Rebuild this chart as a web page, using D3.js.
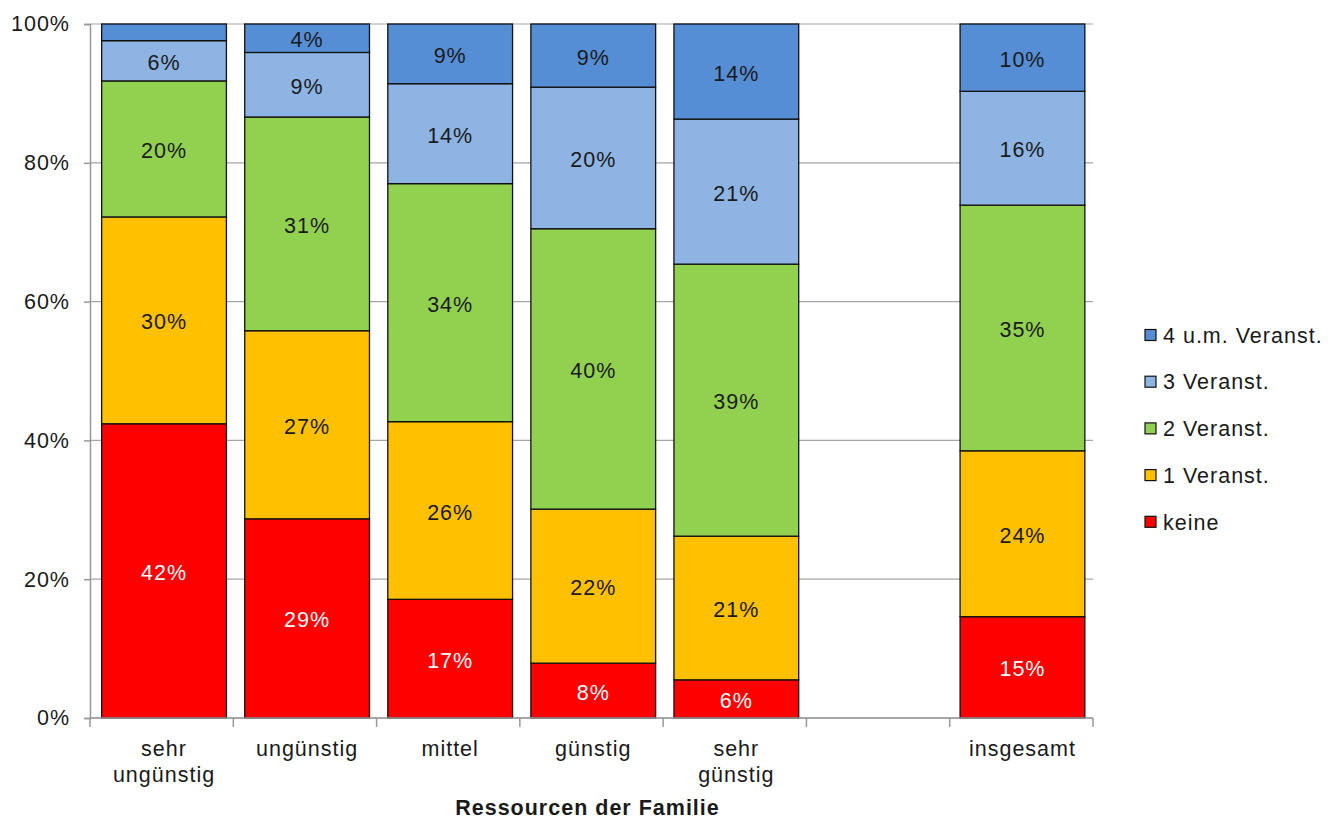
<!DOCTYPE html>
<html>
<head>
<meta charset="utf-8">
<script src="https://cdn.jsdelivr.net/npm/d3@7"></script>
<style>
  html, body { margin: 0; padding: 0; background: #fff; }
  svg { display: block; font-family: "Liberation Sans", Arial, Helvetica, sans-serif; letter-spacing: 1px; }
</style>
</head>
<body>
<svg id="chart" width="1328" height="825"></svg>
<script>
// Categories (one empty spacer slot before the total)
const categories = ["sehr ungünstig", "ungünstig", "mittel", "günstig", "sehr günstig", "", "insgesamt"];
const categoryLines = [["sehr", "ungünstig"], ["ungünstig"], ["mittel"], ["günstig"], ["sehr", "günstig"], [], ["insgesamt"]];

// Series, bottom to top (shares in %)
const seriesNames = ["keine", "1 Veranst.", "2 Veranst.", "3 Veranst.", "4 u.m. Veranst."];
const keine     = [42.4, 28.7, 17.1,  7.9,  5.5, null, 14.6];
const eins      = [29.8, 27.1, 25.6, 22.2, 20.7, null, 23.9];
const zwei      = [19.6, 30.8, 34.3, 40.4, 39.2, null, 35.4];
const drei      = [ 5.8,  9.3, 14.4, 20.4, 20.9, null, 16.4];
const vierUndMehr = [2.4,  4.1,  8.6,  9.1, 13.7, null,  9.7];
const seriesValues = [keine, eins, zwei, drei, vierUndMehr];
const seriesColors = ["#FF0000", "#FFC000", "#92D050", "#8EB4E3", "#558ED5"];
const labelColors  = ["#ffffff", "#1a1a1a", "#1a1a1a", "#1a1a1a", "#1a1a1a"];

const yTicks = [0, 20, 40, 60, 80, 100];
const xTitle = "Ressourcen der Familie";

const svg = d3.select("#chart");
const plot = { left: 90, right: 1093, top: 24, bottom: 718 };
const FONT = 21.5;

const x = d3.scaleBand()
  .domain(d3.range(categories.length))
  .range([plot.left + 2.5, plot.right + 1])
  .paddingInner(0.128)
  .paddingOuter(0.064);
const y = d3.scaleLinear().domain([0, 100]).range([plot.bottom, plot.top]);

// Gridlines
svg.append("g")
  .selectAll("line")
  .data(yTicks)
  .join("line")
  .attr("x1", plot.left).attr("x2", plot.right)
  .attr("y1", d => y(d)).attr("y2", d => y(d))
  .attr("stroke", "#a6a6a6").attr("stroke-width", 1.2);

// Y axis
const yAxis = svg.append("g")
  .attr("transform", `translate(${plot.left},0)`)
  .call(d3.axisLeft(y).tickValues(yTicks).tickFormat(d => d + "%").tickSize(6).tickPadding(14));
yAxis.select(".domain").attr("stroke", "#999").attr("stroke-width", 1.5);
yAxis.selectAll(".tick line").attr("stroke", "#999").attr("stroke-width", 1.5);
yAxis.selectAll(".tick text").attr("font-size", FONT).attr("fill", "#1a1a1a").attr("font-family", null);

// Stacked data
const rows = categories.map((c, i) => {
  const r = { i };
  seriesValues.forEach((s, k) => r[k] = s[i] == null ? 0 : s[i]);
  return r;
});
const stack = d3.stack().keys(d3.range(seriesValues.length))(rows);

const layers = svg.append("g")
  .selectAll("g")
  .data(stack)
  .join("g")
  .attr("fill", (d, k) => seriesColors[k]);

layers.selectAll("rect")
  .data(d => d.filter(p => p[1] - p[0] > 0))
  .join("rect")
  .attr("x", p => x(p.data.i))
  .attr("width", x.bandwidth())
  .attr("y", p => y(p[1]))
  .attr("height", p => y(p[0]) - y(p[1]))
  .attr("stroke", "#111")
  .attr("stroke-width", 1.3);

// Value labels inside segments
stack.forEach((layer, k) => {
  svg.append("g")
    .selectAll("text")
    .data(layer.filter(p => p[1] - p[0] >= 3.5))
    .join("text")
    .attr("x", p => x(p.data.i) + x.bandwidth() / 2)
    .attr("y", p => y((p[0] + p[1]) / 2))
    .attr("dy", "0.42em")
    .attr("text-anchor", "middle")
    .attr("font-size", FONT)
    .attr("fill", labelColors[k])
    .text(p => Math.round(p[1] - p[0]) + "%");
});

// X axis: ticks on slot boundaries
const slot = (plot.right - plot.left) / categories.length;
const bounds = d3.range(categories.length + 1).map(i => plot.left + i * slot);
svg.append("line")
  .attr("x1", plot.left).attr("x2", plot.right)
  .attr("y1", plot.bottom).attr("y2", plot.bottom)
  .attr("stroke", "#999").attr("stroke-width", 1.5);
svg.append("g")
  .selectAll("line")
  .data(bounds)
  .join("line")
  .attr("x1", d => d).attr("x2", d => d)
  .attr("y1", plot.bottom).attr("y2", plot.bottom + 9)
  .attr("stroke", "#999").attr("stroke-width", 1.5);

// Category labels
const catG = svg.append("g");
categoryLines.forEach((lines, i) => {
  const t = catG.append("text")
    .attr("text-anchor", "middle")
    .attr("font-size", FONT)
    .attr("fill", "#1a1a1a");
  lines.forEach((ln, j) => {
    t.append("tspan")
      .attr("x", x(i) + x.bandwidth() / 2)
      .attr("y", 756 + j * 26)
      .text(ln);
  });
});

// Axis title
svg.append("text")
  .attr("x", (plot.left + plot.right) / 2 - 4)
  .attr("y", 815)
  .attr("text-anchor", "middle")
  .attr("font-size", FONT)
  .attr("font-weight", "bold")
  .attr("fill", "#1a1a1a")
  .text(xTitle);

// Legend (top series first)
const legendOrder = d3.range(seriesNames.length).reverse();
const legend = svg.append("g")
  .selectAll("g")
  .data(legendOrder)
  .join("g")
  .attr("transform", (k, j) => `translate(1145,${335 + j * 46.7})`);
legend.append("rect")
  .attr("x", 0).attr("y", -5.5)
  .attr("width", 11).attr("height", 11)
  .attr("fill", k => seriesColors[k])
  .attr("stroke", "#111").attr("stroke-width", 1.2);
legend.append("text")
  .attr("x", 18)
  .attr("dy", "0.36em")
  .attr("font-size", FONT)
  .attr("fill", "#1a1a1a")
  .text(k => seriesNames[k]);
</script>
</body>
</html>
